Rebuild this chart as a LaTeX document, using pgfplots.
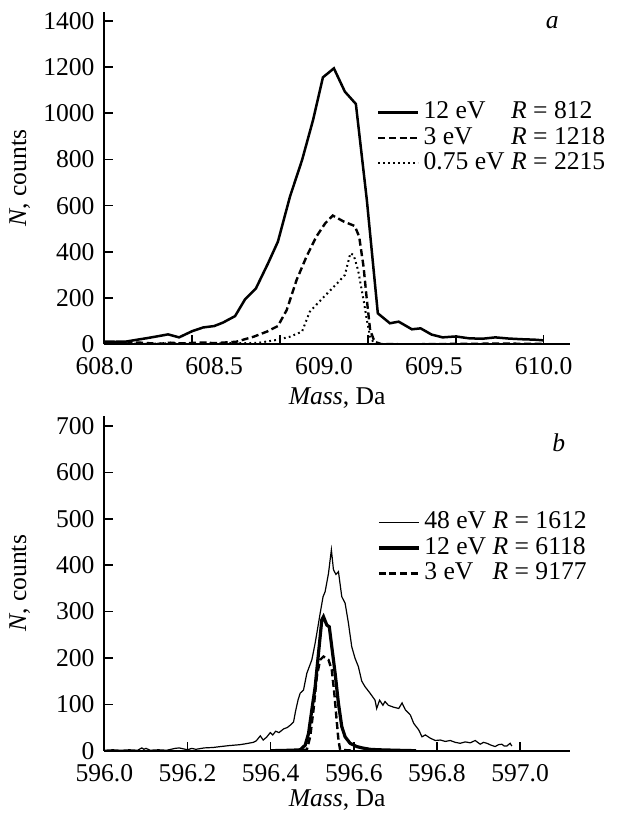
\documentclass[border=0pt]{standalone}
\usepackage{fontspec}
\setmainfont{Liberation Serif}
\usepackage{calc}
\usepackage{pgfplots}
\pgfplotsset{compat=1.18}

\pgfplotsset{
  spec/.style={
    scale only axis, width=232.8pt,
    axis lines=left, axis line style={-, line width=1.1pt},
    tick align=inside, major tick length=4.5pt,
    tick style={line width=0.8pt, black},
    scaled ticks=false,
    /pgf/number format/assume math mode=true,
    /pgf/number format/1000 sep={},
    x tick label style={inner ysep=0pt, yshift=-6.5pt},
    y tick label style={inner ysep=0pt, xshift=-0.5pt},
    legend cell align=left,
    legend image code/.code={\draw[##1] (0pt,0pt) -- (20pt,0pt);},
    legend style={draw=none, fill=none, anchor=north west, inner sep=0pt,
      row sep=0.3pt,
      nodes={inner ysep=0.5pt, inner xsep=2pt, text height=8.8pt, text depth=2.6pt}},
    y label style={at={(axis description cs:-0.182,0.5)}, anchor=center},
  },
}

\begin{document}
\fontsize{12.8}{15}\selectfont
\begin{tikzpicture}
% (a)
\begin{axis}[spec, at={(0,0)}, anchor=south west, height=166.3pt,
  xmin=608, xmax=610.12, ymin=0, ymax=1439,
  xtick={608.4,608.8,609.2,609.6,610}, xticklabels={},
  extra x ticks={608,608.5,609,609.5,610},
  extra x tick labels={608.0,608.5,609.0,609.5,610.0},
  extra x tick style={major tick length=0pt},
  ytick={0,200,400,600,800,1000,1200,1400},
  xlabel={\textit{Mass}, Da}, ylabel={\textit{N}, counts},
  x label style={at={(axis description cs:0.5,-0.162)}, anchor=center},
  legend style={at={(axis description cs:0.585,0.735)}},
]
\addplot[black, line width=1.25pt] coordinates {
(608.00,12)(608.05,11)(608.10,12)(608.15,20)(608.19,26)(608.25,36)(608.29,43)
(608.34,30)(608.40,57)(608.45,73)(608.50,79)(608.54,94)(608.595,122)(608.64,194)
(608.69,242)(608.745,350)(608.79,444)(608.845,639)(608.90,797)(608.95,970)
(608.995,1155)(609.045,1194)(609.095,1093)(609.145,1040)(609.195,624)(609.245,134)
(609.30,91)(609.34,98)(609.40,65)(609.44,69)(609.49,42)(609.54,30)(609.60,34)
(609.66,26)(609.72,24)(609.78,30)(609.84,25)(609.90,22)(609.96,20)(610.00,17)
};
\addlegendentry{\makebox[\widthof{0.75 eV}][l]{12 eV} \textit{R} = 812}
\addplot[black, line width=1.2pt, dash pattern=on 3.5pt off 1.8pt] coordinates {
(608.00,8)(608.05,6)(608.10,3)(608.15,8)(608.20,5)(608.25,2)(608.30,7)(608.35,4)
(608.40,6)(608.45,8)(608.50,5)(608.55,8)(608.60,11)(608.68,33)(608.74,55)
(608.79,79)(608.83,148)(608.875,278)(608.92,379)(608.965,466)(609.005,523)
(609.04,557)(609.09,531)(609.14,512)(609.16,466)(609.18,336)(609.195,192)
(609.21,62)(609.23,11)(609.26,1)(609.40,0)(609.60,2)(609.80,3)(610.00,2)
};
\addlegendentry{\makebox[\widthof{0.75 eV}][l]{3 eV} \textit{R} = 1218}
\addplot[black, line width=1pt, dash pattern=on 0.9pt off 1.6pt] coordinates {
(608.00,4)(608.10,3)(608.20,2)(608.30,5)(608.40,3)(608.50,4)(608.60,5)(608.70,6)
(608.785,19)(608.845,33)(608.90,55)(608.935,141)(609.00,206)(609.06,264)
(609.095,300)(609.12,394)(609.135,386)(609.155,321)(609.18,192)(609.195,105)
(609.21,33)(609.23,1)(609.26,0)
};
\addlegendentry{0.75 eV \textit{R} = 2215}
\node at (axis description cs:0.962,0.966) {\textit{a}};
\end{axis}
% (b)
\begin{axis}[spec, at={(0,-203.2pt)}, anchor=south west, height=167.35pt,
  xmin=596, xmax=597.12, ymin=0, ymax=721.5,
  xtick={596,596.2,596.4,596.6,596.8,597},
  xticklabel style={/pgf/number format/.cd, fixed, fixed zerofill, precision=1},
  ytick={0,100,200,300,400,500,600,700},
  xlabel={\textit{Mass}, Da}, ylabel={\textit{N}, counts},
  x label style={at={(axis description cs:0.5,-0.147)}, anchor=center},
  legend style={at={(axis description cs:0.585,0.72)}},
]
\addplot[black, line width=0.6pt] coordinates {
(596.000,1)(596.020,2)(596.040,1)(596.060,2)(596.080,1)(596.090,6)(596.095,3)
(596.100,5)(596.110,1)(596.130,2)(596.150,1)(596.170,5)(596.180,6)(596.190,4)
(596.200,2)(596.210,5)(596.220,3)(596.240,6)(596.262,7)(596.280,9)(596.300,11)
(596.326,13)(596.340,15)(596.358,18)(596.365,21)(596.375,32)(596.382,23)
(596.390,29)(596.399,39)(596.405,34)(596.412,42)(596.420,39)(596.431,47)
(596.440,50)(596.447,55)(596.455,62)(596.460,86)(596.466,110)(596.471,124)
(596.479,131)(596.487,167)(596.499,196)(596.507,232)(596.519,296)(596.526,332)
(596.531,343)(596.539,382)(596.546,433)(596.551,390)(596.557,380)(596.563,386)
(596.571,332)(596.579,318)(596.587,275)(596.595,224)(596.603,199)(596.611,181)
(596.619,150)(596.627,138)(596.639,124)(596.651,109)(596.655,91)(596.662,109)
(596.670,98)(596.675,106)(596.683,98)(596.695,94)(596.708,91)(596.716,103)
(596.724,88)(596.736,77)(596.744,59)(596.756,45)(596.764,30)(596.772,34)
(596.784,27)(596.796,22)(596.808,23)(596.820,20)(596.832,22)(596.844,18)
(596.856,16)(596.868,19)(596.880,17)(596.892,22)(596.904,14)(596.912,18)
(596.920,16)(596.930,12)(596.940,9)(596.948,13)(596.956,14)(596.962,10)
(596.968,10)(596.976,16)(596.980,10)
};
\addlegendentry{48 eV \textit{R} = 1612}
\addplot[black, line width=1.6pt] coordinates {
(596.40,0)(596.45,1)(596.471,2)(596.483,12)(596.491,37)(596.499,88)(596.507,138)
(596.515,210)(596.523,282)(596.527,289)(596.535,271)(596.541,267)(596.547,224)
(596.555,167)(596.563,102)(596.571,52)(596.579,30)(596.591,16)(596.607,9)
(596.620,6)(596.639,3)(596.66,2)(596.70,1)(596.75,0)
};
\addlegendentry{12 eV \textit{R} = 6118}
\addplot[black, line width=1.2pt, dash pattern=on 3.5pt off 1.8pt] coordinates {
(596.45,0)(596.487,2)(596.495,30)(596.503,88)(596.511,160)(596.519,196)
(596.527,203)(596.539,196)(596.547,174)(596.553,124)(596.558,73)(596.563,23)
(596.567,2)(596.60,0)
};
\addlegendentry{\makebox[\widthof{48 eV}][l]{3 eV} \textit{R} = 9177}
\node at (axis description cs:0.976,0.919) {\textit{b}};
\end{axis}
\pgfresetboundingbox
\useasboundingbox (-52.2pt,-235.85pt) rectangle (257.3pt,172.15pt);
\end{tikzpicture}
\end{document}
